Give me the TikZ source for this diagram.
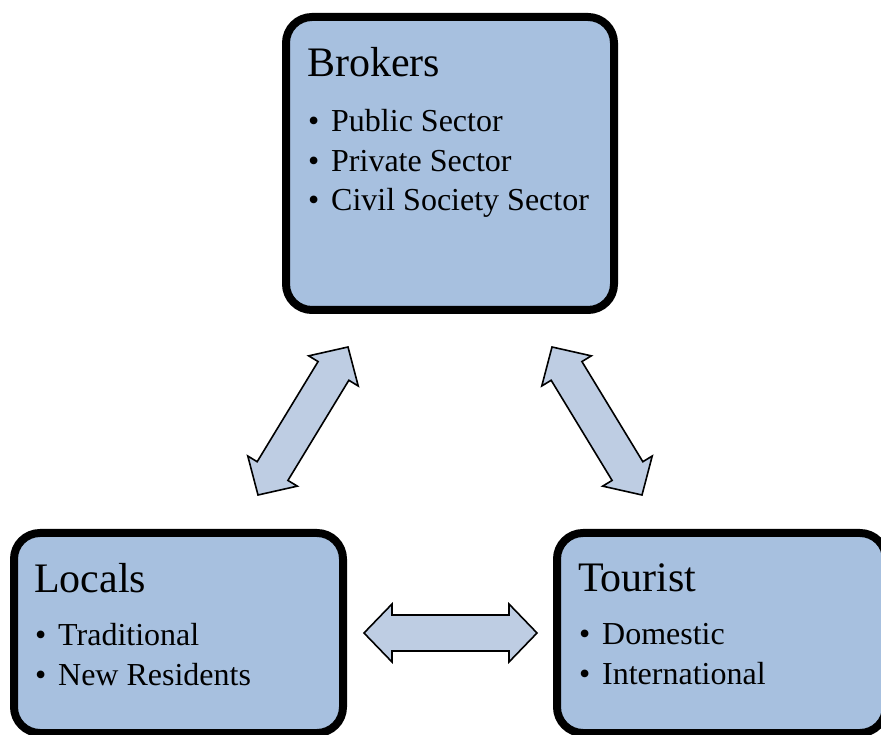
\documentclass[tikz,border=0pt]{standalone}
\usepackage{fontspec}
\setmainfont{Liberation Serif}
\usetikzlibrary{positioning,calc}
\definecolor{boxblue}{RGB}{167,192,223}
\definecolor{arrblue}{RGB}{190,205,227}
\newcommand{\bul}[1]{\hspace{1pt}\makebox[23pt][l]{\textbullet}#1}
\newcommand{\titlefont}{\fontsize{42}{39.5}\selectfont}
% double block arrow from #1 to #2
\newcommand{\blockarr}[2]{%
  \draw[dbl] (#1)
    -- ($(#1)!28pt!(#2)!29pt!90:(#2)$)
    -- ($(#1)!28pt!(#2)!18pt!90:(#2)$)
    -- ($(#2)!28pt!(#1)!18pt!-90:(#1)$)
    -- ($(#2)!28pt!(#1)!29pt!-90:(#1)$)
    -- (#2)
    -- ($(#2)!28pt!(#1)!29pt!90:(#1)$)
    -- ($(#2)!28pt!(#1)!18pt!90:(#1)$)
    -- ($(#1)!28pt!(#2)!18pt!-90:(#2)$)
    -- ($(#1)!28pt!(#2)!29pt!-90:(#2)$)
    -- cycle;}
\begin{document}
\begin{tikzpicture}[
x=1pt, y=1pt,
box/.style={
  draw=black,
  line width=8pt,
  rounded corners=26pt,
  fill=boxblue,
  minimum width=329pt,
  minimum height=200pt,
  inner sep=0pt
  },
txt/.style={
  anchor=north west,
  align=left,
  inner sep=0pt,
  font=\fontsize{32}{39.5}\selectfont
  },
dbl/.style={
  draw=black,
  line width=1.6pt,
  fill=arrblue,
  line join=miter
  }
]
\useasboundingbox (0,0) rectangle (881,734);

%The three boxes
\node[box, minimum width=328pt, minimum height=293pt] (brokers) at (450,570.5) {};
\node[box] (locals) at (178.5,101) {};
\node[box] (tourist) at (721.5,101) {};

%Texts
\node[txt] (brokerstxt) at ($(brokers.north west)+(25,-34)$)
  {{\titlefont Brokers}\\[16pt]
   \bul{Public Sector}\\
   \bul{Private Sector}\\
   \bul{Civil Society Sector}};
\node[txt] (localstxt) at ($(locals.north west)+(24,-34)$)
  {{\titlefont Locals}\\[14pt]
   \bul{Traditional}\\
   \bul{New Residents}};
\node[txt] (touristtxt) at ($(tourist.north west)+(25,-34)$)
  {{\titlefont Tourist}\\[14pt]
   \bul{Domestic}\\
   \bul{International}};

%Aux
\coordinate (lb) at ($(brokers.south)+(-102,-33)$);
\coordinate (bl) at ($(locals.north)+(79.5,34)$);
\coordinate (rb) at ($(brokers.south)+(102,-33)$);
\coordinate (tb) at ($(tourist.north)+(-79.5,34)$);
\coordinate (lt) at ($(locals.east)+(17,0)$);
\coordinate (tl) at ($(tourist.west)+(-16,0)$);

\blockarr{lb}{bl}
\blockarr{rb}{tb}
\blockarr{lt}{tl}

\end{tikzpicture}
\end{document}
